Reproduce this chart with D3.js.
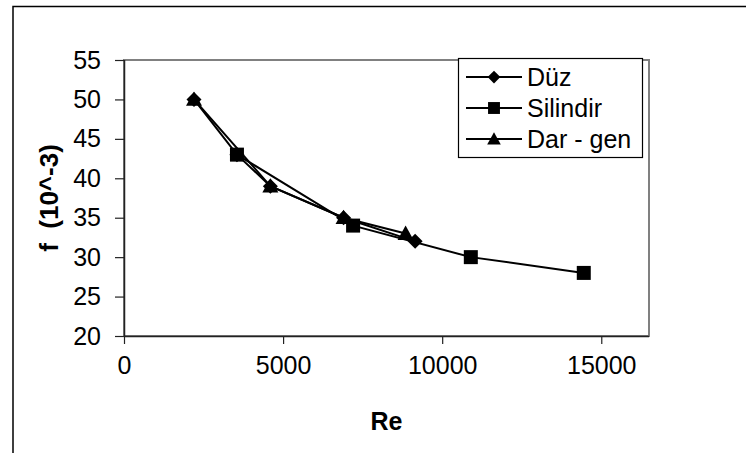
<!DOCTYPE html>
<html>
<head>
<meta charset="utf-8">
<script src="https://cdn.jsdelivr.net/npm/d3@7"></script>
<style>
  body { margin: 0; background: #fff; }
  text { font-family: Arial, "Liberation Sans", sans-serif; fill: #000; }
</style>
</head>
<body>
<div id="chart-area"></div>
<script>
// data
const seriesNames = ["Düz", "Silindir", "Dar - gen"]
const reDuz = [2200, 3550, 4600, 6900, 9150]
const fDuz = [50, 43, 39, 35, 32]
const reSilindir = [3550, 7200, 10900, 14450]
const fSilindir = [43, 34, 30, 28]
const reDarGen = [2200, 4600, 6900, 8850]
const fDarGen = [50, 39, 35, 33]
const xTicks = [0, 5000, 10000, 15000]
const yTicks = [20, 25, 30, 35, 40, 45, 50, 55]

const MARGIN = { LEFT: 124, RIGHT: 97, TOP: 60, BOTTOM: 117 }
const WIDTH = 746 - MARGIN.LEFT - MARGIN.RIGHT
const HEIGHT = 453 - MARGIN.TOP - MARGIN.BOTTOM

const svg = d3.select("#chart-area").append("svg")
  .attr("width", 746)
  .attr("height", 453)

// outer chart frame (runs off right and bottom)
svg.append("path")
  .attr("d", "M13,460 L13,6.5 L760,6.5")
  .attr("fill", "none")
  .attr("stroke", "#000")
  .attr("stroke-width", 1.5)

const g = svg.append("g")
  .attr("transform", `translate(${MARGIN.LEFT}, ${MARGIN.TOP})`)

const x = d3.scaleLinear()
  .domain([0, 16500])
  .range([0, WIDTH])
const y = d3.scaleLinear()
  .domain([20, 55])
  .range([HEIGHT, 0])

// plot area border
g.append("rect")
  .attr("width", WIDTH)
  .attr("height", HEIGHT)
  .attr("fill", "none")
  .attr("stroke", "#808080")
  .attr("stroke-width", 2)

// axes
const xAxisCall = d3.axisBottom(x).tickValues(xTicks).tickFormat(d3.format("d")).tickSize(8).tickPadding(12)
const xAxis = g.append("g")
  .attr("transform", `translate(0, ${HEIGHT})`)
  .call(xAxisCall)

const yAxisCall = d3.axisLeft(y).tickValues(yTicks).tickSize(9).tickPadding(14)
const yAxis = g.append("g")
  .call(yAxisCall)

xAxis.select(".domain").attr("d", `M0,0.5H${WIDTH}`)
yAxis.select(".domain").attr("d", `M0.5,${HEIGHT}V0`)
g.selectAll(".domain").attr("stroke", "#222").attr("stroke-width", 1.5)
g.selectAll(".tick line").attr("stroke", "#222").attr("stroke-width", 1.2)
g.selectAll(".tick text")
  .attr("font-size", "25px")
  .attr("font-family", "Arial, 'Liberation Sans', sans-serif")
  .attr("fill", "#000")

// Labels
g.append("text")
  .attr("x", WIDTH / 2)
  .attr("y", HEIGHT + 94)
  .attr("font-size", "25px")
  .attr("font-weight", "bold")
  .attr("text-anchor", "middle")
  .text("Re")
g.append("text")
  .attr("transform", `translate(${58 - MARGIN.LEFT}, ${HEIGHT / 2}) rotate(-90)`)
  .attr("font-size", "26px")
  .attr("font-weight", "bold")
  .attr("text-anchor", "middle")
  .style("white-space", "pre")
  .text("f  (10^-3)")

// markers
const diamond = s => `M0,${-s}L${s},0L0,${s}L${-s},0Z`
const square = s => `M${-s},${-s}H${s}V${s}H${-s}Z`
const triangle = s => `M0,${-s}L${s},${s * 0.8}H${-s}Z`

const series = [
  { name: seriesNames[0], re: reDuz, f: fDuz, marker: diamond, size: 7.5 },
  { name: seriesNames[1], re: reSilindir, f: fSilindir, marker: square, size: 7 },
  { name: seriesNames[2], re: reDarGen, f: fDarGen, marker: triangle, size: 8 }
]

const line = d3.line()
  .x(d => x(d[0]))
  .y(d => y(d[1]))

series.forEach(s => {
  const pts = s.re.map((r, i) => [r, s.f[i]])
  g.append("path")
    .datum(pts)
    .attr("d", line)
    .attr("fill", "none")
    .attr("stroke", "#000")
    .attr("stroke-width", 2)
  g.selectAll(null)
    .data(pts)
    .enter().append("path")
    .attr("transform", d => `translate(${x(d[0])}, ${y(d[1])})`)
    .attr("d", s.marker(s.size))
    .attr("fill", "#000")
})

// legend
const legend = svg.append("g")
  .attr("transform", "translate(458, 58)")
legend.append("rect")
  .attr("x", 0.5)
  .attr("y", 0.5)
  .attr("width", 184)
  .attr("height", 99)
  .attr("fill", "#fff")
  .attr("stroke", "#000")
  .attr("stroke-width", 1.2)

const rows = legend.selectAll(".row")
  .data(series)
  .enter().append("g")
  .attr("transform", (d, i) => `translate(0, ${19 + i * 31})`)
rows.append("line")
  .attr("x1", 8)
  .attr("x2", 64)
  .attr("stroke", "#000")
  .attr("stroke-width", 2)
rows.append("path")
  .attr("transform", "translate(36, 0)")
  .attr("d", d => d.marker(d.size * 0.85))
  .attr("fill", "#000")
rows.append("text")
  .attr("x", 69)
  .attr("dy", "0.36em")
  .attr("font-size", "25px")
  .text(d => d.name)
</script>
</body>
</html>
